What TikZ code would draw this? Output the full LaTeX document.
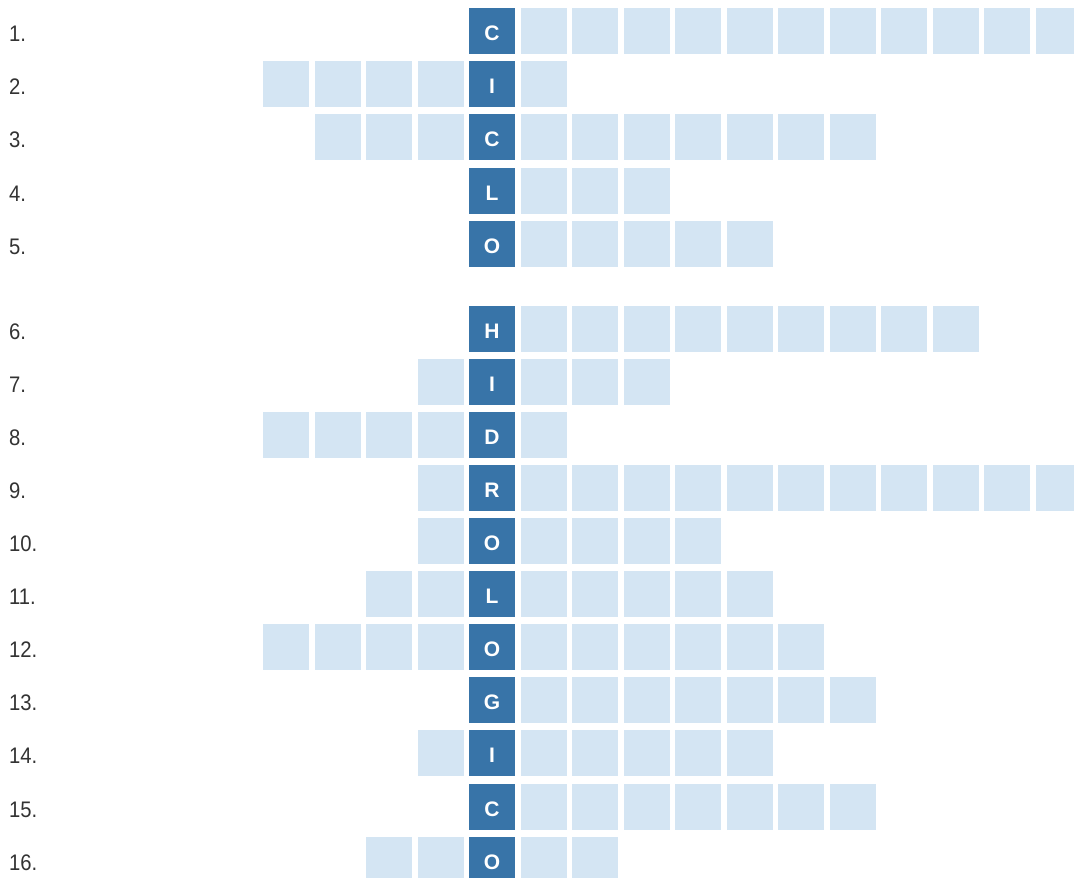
\documentclass[tikz,border=0pt]{standalone}
\usepackage{fontspec}
\setmainfont{Liberation Sans}
\newfontfamily\labelfont[FakeStretch=0.9]{Liberation Sans}
\definecolor{darkcell}{HTML}{3874A8}
\definecolor{litecell}{HTML}{D4E5F3}
\definecolor{labelgray}{HTML}{333333}
\begin{document}
\begin{tikzpicture}[x=1pt,y=-1pt,
  litebox/.style={fill=litecell,draw=none,minimum size=46pt,inner sep=0pt,outer sep=0pt},
  darkbox/.style={fill=darkcell,draw=none,minimum size=46pt,inner sep=0pt,outer sep=0pt,
    text height=19pt,text depth=0pt,
    text=white,font=\fontsize{21}{21}\selectfont\bfseries},
  rowlabel/.style={anchor=base west,inner sep=0pt,text=labelgray,
    font=\labelfont\fontsize{22.5}{22.5}\selectfont}]
\useasboundingbox (0,0) rectangle (1074,878);
\begin{scope}
\clip (0,0) rectangle (1074,878);
\foreach \r/\t/\L/\ch/\R in {1/8/0/C/11, 2/61/4/I/1, 3/114/3/C/7, 4/168/0/L/3, 5/221/0/O/5,
  6/306/0/H/9, 7/359/1/I/3, 8/412/4/D/1, 9/465/1/R/11, 10/518/1/O/4, 11/571/2/L/5,
  12/624/4/O/6, 13/677/0/G/7, 14/730/1/I/5, 15/784/0/C/7, 16/837/2/O/2}{
  \node[rowlabel] (lab\r) at (9,{\t+33}) {\r.};
  \node[darkbox] (d\r) at (492,{\t+23}) {\ch};
  \ifnum\L>0
    \foreach \i in {1,...,\L}{
      \node[litebox] (l\r-\i) at ({492-51.5*\i},{\t+23}) {};
    }
  \fi
  \ifnum\R>0
    \foreach \i in {1,...,\R}{
      \node[litebox] (r\r-\i) at ({492+51.5*\i},{\t+23}) {};
    }
  \fi
}
\end{scope}
\end{tikzpicture}
\end{document}
